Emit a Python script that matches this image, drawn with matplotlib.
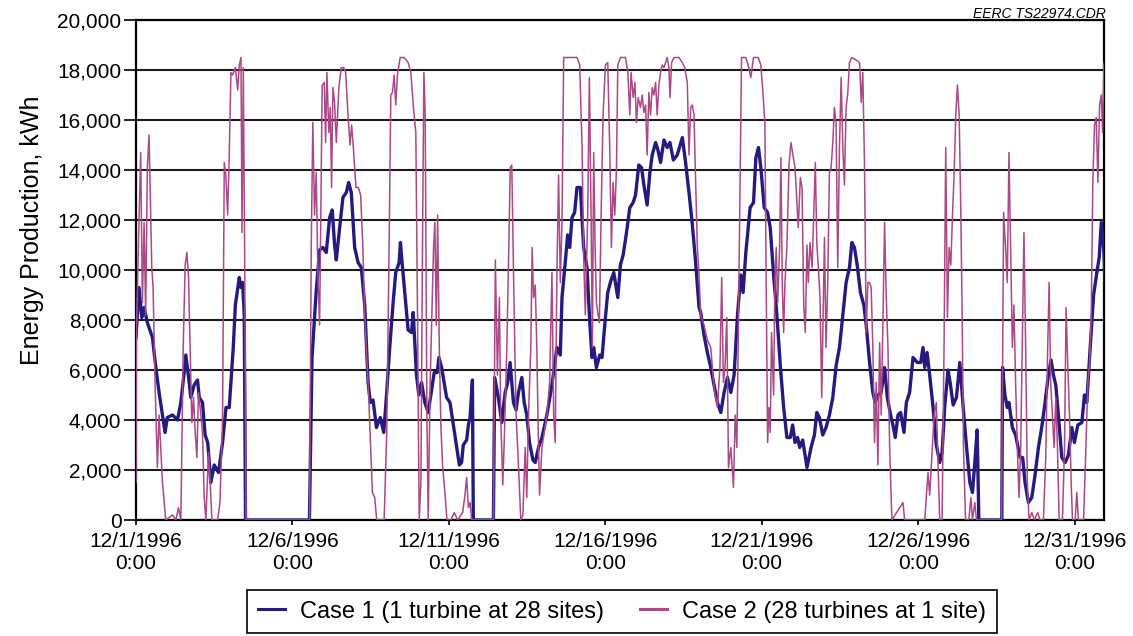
import numpy as np
import matplotlib
matplotlib.use("Agg")
import matplotlib.pyplot as plt
from matplotlib.ticker import FuncFormatter

# hours since 12/1/1996 0:00, energy in kWh
case1_hours = [
    0, 2.3, 4.4, 6.2, 8.7, 12.6, 15, 17.7, 20.3, 22.3, 24, 28, 31.8, 34.4, 36.9,
    38.2, 40.8, 42, 44.6, 47.2, 48.5, 51, 53, 55, 57.4, 60, 63.3, 66.4, 69, 71.5,
    74.6, 76.2, 79.2, 80.5, 81.8, 83, 84, 133, 135, 138, 140.8, 143.3, 145.9,
    148.5, 150.5, 152.3, 153.6, 156.2, 158.7, 161.3, 163.1, 165.1, 167.7, 170.3,
    172.8, 175.4, 178, 179.7, 181.8, 184.4, 187.4, 190, 192, 194.6, 197.2, 199.2,
    201.8, 202.8, 204.4, 207, 208.7, 211.3, 212.6, 215.1, 216.9, 219, 221.5,
    224.1, 226.7, 228.7, 231, 232.3, 234.4, 238.2, 240.8, 243.4, 246, 248, 249.7,
    251, 253.6, 254.9, 256.2, 258, 258.7, 274.1, 275.1, 277.9, 280.5, 283.1,
    285.1, 286.9, 289.5, 291.5, 293.3, 295.9, 297.7, 299.7, 301.8, 304.4, 306.2,
    308.7, 311.3, 315.1, 319, 322.8, 325.4, 326.7, 329.2, 331, 332.6, 334.4,
    336.4, 338.2, 340.8, 343.3, 345.9, 348, 349.7, 351, 353.1, 355.6, 357.4, 360,
    361.8, 363.8, 366.4, 369.5, 371.5, 373.6, 376.2, 378.7, 381.3, 383.1, 385.6,
    387.7, 389.5, 392, 394.1, 395.9, 398.5, 400.3, 402.3, 404.9, 407.4, 409.5,
    412.1, 415.1, 419, 421.5, 424.1, 426.7, 429.2, 431.8, 433.1, 435.6, 438.2,
    440.8, 443.3, 445.9, 448.5, 451, 453.6, 456.2, 458.7, 461.3, 463.8, 465.6,
    467.7, 471, 473.6, 475.4, 477.4, 479.2, 481.8, 484.4, 486.4, 489, 491.5,
    494.1, 496.7, 499.2, 501.8, 503.6, 505.4, 507.4, 509, 511.3, 514.6, 517.7,
    520.3, 522.1, 524.1, 526.7, 529.2, 531.8, 534.4, 537, 539.5, 542.1, 544.6,
    547.2, 549, 551, 553.1, 555.6, 558.2, 560, 562.6, 565.1, 566.9, 569, 571.5,
    574.1, 576.2, 578.7, 580.5, 582.3, 584.4, 586.4, 589, 590.8, 593.3, 595.9,
    599.2, 601.8, 603.6, 604.9, 606.7, 608.7, 611.3, 613.8, 616.4, 618.2, 620.3,
    622.8, 624.4, 626.7, 629.2, 631.8, 634.4, 637, 639.5, 641.5, 643.3, 645.1,
    646.4, 664, 664.6, 666.4, 668.2, 669.5, 672.1, 674.6, 678, 680, 681.8, 684.4,
    687, 689.5, 692.1, 694.6, 697.2, 699.7, 701.8, 703.6, 705.4, 707.4, 710,
    712.6, 715.1, 717.7, 719.7, 722.3, 725.4, 727.4, 729.2, 731.8, 734.4, 736.9,
    738.7, 740.3, 742.1, 743.5,
]
case1_kwh = [
    7300, 9300, 8100, 8500, 7900, 7300, 6200, 5100, 4200, 3500, 4100, 4200, 4000,
    4700, 5900, 6600, 5500, 4900, 5400, 5600, 4900, 4700, 3400, 3100, 1500, 2200,
    1900, 3100, 4500, 4500, 6900, 8600, 9700, 9300, 9500, 8200, 0, 0, 6500, 9000,
    10800, 10900, 10700, 12100, 12400, 11000, 10400, 11700, 12900, 13100, 13500,
    13100, 10900, 10300, 10100, 8600, 5500, 4700, 4800, 3700, 4100, 3500, 4900,
    6900, 8700, 9900, 10300, 11100, 10100, 8600, 7600, 7500, 8300, 5800, 5000,
    5500, 4700, 4300, 5200, 5900, 5900, 6500, 6100, 4900, 4700, 3800, 2900, 2200,
    2300, 3000, 3200, 3800, 4100, 5600, 0, 0, 5700, 4900, 3900, 5100, 5500, 6300,
    4700, 4400, 5100, 5700, 4700, 4200, 3100, 2400, 2300, 2900, 3300, 4200, 5400,
    6900, 6600, 8900, 10300, 11400, 10900, 12100, 12300, 13300, 13300, 10900,
    10100, 7900, 6500, 6900, 6100, 6600, 6500, 8100, 9100, 9500, 9900, 8900,
    10200, 10600, 11500, 12500, 12700, 13000, 14200, 14100, 13400, 12600, 13900,
    14600, 15100, 14800, 14300, 15200, 14900, 15100, 14400, 14600, 15300, 14300,
    13100, 11800, 10300, 8500, 8300, 7400, 6700, 6100, 5400, 4700, 4300, 5100,
    5700, 5100, 5800, 8200, 9800, 9100, 10700, 12500, 12700, 14500, 14900, 14100,
    12500, 12300, 11700, 9800, 8200, 6200, 4500, 3300, 3300, 3800, 3100, 3300,
    2900, 3200, 2100, 2900, 3400, 4300, 4100, 3400, 3700, 4200, 4900, 6200, 6900,
    8200, 9500, 10100, 11100, 10900, 10200, 9100, 8600, 7800, 6300, 5100, 4700,
    5000, 5100, 6100, 4900, 4200, 3800, 3300, 4200, 4300, 3500, 4700, 5100, 6500,
    6300, 6300, 6900, 6100, 6700, 5800, 4500, 3000, 2300, 2700, 4600, 6000, 5500,
    4600, 4900, 6300, 4500, 2900, 1500, 1100, 2300, 3600, 0, 0, 6100, 5000, 4500,
    4700, 3700, 3400, 2500, 2500, 1500, 700, 900, 1800, 2900, 3700, 4700, 5800,
    6400, 5800, 5400, 4200, 2500, 2300, 2600, 3700, 3100, 3800, 3900, 5000, 4700,
    6900, 9000, 9900, 10500, 11900, 10900, 9300,
]

case2_hours = [
    0, 0.3, 1.8, 3.6, 4.9, 6.2, 7.4, 8.7, 10, 11.3, 12.1, 13.1, 14.6, 16.4, 17.7,
    20.3, 22.8, 28, 30.5, 32.6, 34.4, 36.2, 37.7, 39, 40.3, 41.5, 42.8, 44.1,
    45.4, 46.7, 47.9, 49.2, 51, 52.3, 53.6, 55.6, 56.9, 58.2, 62.6, 64.4, 66.4,
    67.7, 69, 70.3, 71.5, 72.8, 74.1, 76.2, 78, 79.2, 80.5, 81.3, 82.3, 83.3,
    84.4, 133.1, 134.4, 135.6, 136.9, 138.2, 139.5, 140.8, 142.8, 144.4, 145.4,
    146.4, 147.9, 149, 150, 151, 152.3, 153.6, 155.6, 157.4, 159.2, 160.8, 162.6,
    164.1, 165.4, 166.7, 168.7, 170.5, 172.3, 174, 175.4, 178.5, 181.3, 183.1,
    184.6, 190.3, 192.3, 194.1, 195.4, 196.7, 198, 199.2, 200.5, 202.6, 205.6,
    208.7, 210.8, 212.8, 214.6, 215.9, 217.2, 218.5, 219.7, 220.8, 221.8, 223.1,
    224.1, 225.6, 226.9, 228.2, 229.2, 230.3, 231.3, 232.6, 233.8, 235.1, 236.9,
    238.5, 241.5, 244.1, 246.7, 250.5, 252.3, 253.6, 254.9, 256.2, 257.4, 274.1,
    275.6, 277.2, 278.7, 279.7, 281.3, 282.6, 284.4, 285.9, 287, 288.2, 289.8,
    291.5, 293.3, 295.1, 296.7, 298.5, 299.7, 301, 302.8, 303.8, 304.9, 306.2,
    307.4, 308.7, 309.5, 311.3, 313.1, 315.1, 317.2, 319, 320.3, 321.5, 322.8,
    324.1, 325.4, 326.7, 328, 338.2, 340.3, 342.1, 343.3, 344.6, 346.4, 347.7,
    349, 350, 351, 352.1, 353.1, 354.4, 355.4, 356.7, 358.2, 360, 361.8, 363.3,
    364.6, 365.9, 367.2, 368.5, 369.5, 371.5, 375.4, 377.2, 378.7, 379.7, 381.3,
    382.6, 383.8, 385.1, 386.9, 388.2, 389.5, 390.8, 392, 393.3, 394.6, 395.9,
    397.2, 398.5, 399.7, 401, 402.3, 403.6, 404.9, 406.2, 407.4, 408.7, 409.5,
    410.8, 412.6, 416.4, 419, 420.8, 422.8, 424.1, 425.4, 426.7, 427.9, 429.2,
    430.5, 431.8, 433.1, 435.6, 438.2, 440.8, 443.3, 445.9, 447.9, 449.2, 450.5,
    451.8, 453.1, 454.4, 456.2, 458.2, 459.5, 460.8, 461.8, 463.3, 464.4, 467.7,
    469.5, 471.5, 473.6, 477.2, 479.2, 480.8, 482.3, 483.3, 484.4, 485.4, 486.4,
    487.4, 489, 490, 491, 492.1, 493.6, 494.6, 495.6, 496.7, 497.7, 499.2, 500.8,
    502.3, 503.8, 505.4, 506.7, 507.9, 509.5, 510.8, 512.1, 513.3, 514.6, 515.6,
    516.9, 518.5, 519.7, 521, 522.1, 523.3, 524.6, 525.9, 526.9, 528, 529.2,
    530.5, 531.8, 533.1, 534.4, 535.6, 536.9, 538.2, 539.5, 540.8, 542.1, 543.3,
    544.6, 545.9, 547.2, 549, 552.3, 554.9, 556.2, 557.4, 558.7, 560, 561.3,
    562.6, 563.8, 565.1, 566.4, 567.7, 569, 570.3, 571.5, 572.8, 574.1, 575.4,
    576.7, 578, 579.7, 588.2, 589.5, 604.9, 607.4, 608.7, 610, 612.1, 613.8,
    615.1, 616.4, 618.2, 619.7, 621, 622.3, 623.6, 624.9, 626.2, 627.4, 628.7,
    630, 631.3, 632.6, 633.6, 634.6, 636.2, 638.7, 640.3, 641.5, 643.3, 644.6,
    663.8, 665.4, 666.9, 668.2, 669.5, 670.8, 672.1, 673.3, 674.6, 675.9, 677.2,
    678.5, 680, 681, 682.3, 683.6, 684.9, 687, 689, 691.5, 693.3, 695.9, 697.7,
    699.2, 700.3, 701.5, 702.8, 704.1, 705.4, 706.7, 708, 710.5, 712.1, 713.3,
    714.6, 715.9, 717.2, 718.2, 720.3, 721.5, 722.8, 726.7, 728.5, 730, 731.3,
    732.6, 733.8, 735.1, 736.4, 737.7, 739, 740.3, 741.3, 742.3, 743.3,
]
case2_kwh = [
    1500, 7400, 10900, 14700, 8700, 11900, 8200, 14100, 15400, 12200, 10100, 9300,
    5500, 2100, 4200, 1500, 0, 200, 0, 500, 0, 6900, 10200, 10700, 9700, 6900,
    3900, 4900, 3500, 2500, 5100, 4500, 3500, 900, 0, 2700, 1500, 0, 0, 700, 4100,
    14300, 13700, 12200, 14600, 17900, 17800, 18100, 17200, 18200, 18500, 11500,
    18100, 10900, 0, 0, 10900, 15900, 12200, 13900, 9800, 7800, 17400, 17500,
    15100, 17900, 15500, 16500, 13300, 17300, 16700, 15100, 17300, 18100, 18100,
    17900, 16200, 15000, 15800, 14900, 13300, 13300, 13000, 10900, 8200, 4900,
    1100, 900, 0, 0, 3500, 10900, 17000, 17100, 17800, 16600, 17800, 18500, 18500,
    18300, 17900, 16500, 15500, 8200, 0, 1500, 10900, 17900, 16200, 4200, 0, 5500,
    8200, 10900, 11900, 7800, 12200, 6900, 3800, 2200, 1100, 0, 0, 300, 0, 300,
    1000, 1700, 500, 700, 0, 0, 10400, 5800, 8900, 4200, 1400, 3500, 6900, 10900,
    14100, 14200, 9000, 4200, 2200, 0, 200, 2900, 900, 4200, 6900, 10900, 8900,
    9400, 6900, 2900, 1000, 2900, 3500, 4200, 5500, 9900, 4200, 3100, 9900, 13800,
    9500, 11900, 18500, 18500, 18200, 14900, 10600, 8200, 12200, 17700, 12200,
    6900, 14700, 10900, 8700, 8200, 7900, 12200, 16200, 18200, 18300, 14900,
    10900, 13500, 12200, 14100, 18200, 18500, 18500, 17900, 16200, 17900, 16900,
    17500, 15900, 16900, 16500, 17000, 16300, 16600, 14600, 17100, 16200, 17300,
    17000, 17500, 16200, 17400, 17900, 18200, 18100, 18300, 18500, 18100, 16900,
    18300, 18500, 18500, 18300, 18100, 17500, 14600, 16500, 16600, 16200, 13500,
    10900, 9800, 8200, 7800, 7200, 6900, 5300, 4500, 6200, 9700, 5500, 6200, 8100,
    2100, 2900, 1300, 4200, 2900, 6900, 13500, 18500, 18500, 18200, 17700, 18500,
    18500, 18200, 17100, 15900, 9500, 3100, 4500, 3500, 7500, 5000, 9500, 10900,
    8700, 10900, 14500, 9500, 7500, 9500, 10900, 14200, 15100, 14600, 14100,
    12900, 11700, 13700, 13300, 8600, 7500, 11000, 9500, 11100, 10100, 12100,
    14300, 11100, 10100, 8900, 4900, 7900, 11300, 6900, 9500, 13900, 14100,
    15100, 16500, 15900, 10100, 14900, 17700, 14900, 13400, 16500, 17100, 18300,
    18500, 18400, 18300, 16700, 17900, 14200, 7500, 9500, 9500, 9300, 6900, 3100,
    5500, 2200, 7100, 4200, 7800, 11900, 8900, 6900, 2900, 0, 700, 0, 0, 1900,
    1000, 2200, 4200, 4700, 2200, 0, 0, 6900, 14900, 8100, 10900, 10200, 12200,
    13800, 16200, 17400, 16200, 12200, 8200, 2900, 0, 0, 900, 0, 700, 0, 0, 12300,
    10900, 9500, 14700, 10900, 6900, 8600, 5500, 2900, 900, 2900, 8200, 11500,
    6900, 1500, 0, 300, 0, 300, 0, 0, 2500, 6900, 9500, 5500, 4200, 2900, 4900,
    2900, 0, 0, 2900, 8500, 6200, 4200, 1500, 0, 0, 1100, 0, 0, 2900, 5500, 6200,
    8200, 13500, 15800, 16100, 13500, 16600, 17000, 15500, 18200, 18500,
]

tick_hours = [0, 120, 240, 360, 480, 600, 720]
tick_labels = ["12/1/1996\n0:00", "12/6/1996\n0:00", "12/11/1996\n0:00",
               "12/16/1996\n0:00", "12/21/1996\n0:00", "12/26/1996\n0:00",
               "12/31/1996\n0:00"]
series_names = ["Case 1 (1 turbine at 28 sites)",
                "Case 2 (28 turbines at 1 site)"]

plt.rcParams['font.family'] = ['Liberation Sans', 'DejaVu Sans']

fig = plt.figure(figsize=(11.33, 6.36), dpi=100)
ax = fig.add_axes([136 / 1133, 1 - 520 / 636, 967.5 / 1133, 500 / 636])

line1, = ax.plot(case1_hours, case1_kwh, color='#231b7f', lw=2.4, zorder=3)
line2, = ax.plot(case2_hours, case2_kwh, color='#ac4888', lw=1.1, zorder=4)

ax.set_xlim(0, 742)
ax.set_ylim(0, 20000)
ax.set_yticks(np.arange(0, 20001, 2000))
ax.yaxis.set_major_formatter(FuncFormatter(lambda v, p: f"{int(v):,}"))
ax.set_xticks(tick_hours)
ax.set_xticklabels(tick_labels)

ax.yaxis.grid(True, color='#1a1a1a', lw=1.5)
ax.set_axisbelow(True)
for s in ax.spines.values():
    s.set_linewidth(1.6)
    s.set_color('black')

ax.tick_params(axis='y', labelsize=15, length=9, width=1.2, pad=1.5)
ax.tick_params(axis='x', labelsize=15, length=3.5, width=1.2, pad=5)

ax.set_ylabel("Energy Production, kWh", fontsize=18)
ax.yaxis.set_label_coords(-0.095, 0.58)

fig.text(1106 / 1133, 1 - 17.5 / 636, "EERC TS22974.CDR", ha='right',
         va='baseline', fontsize=10, style='italic')

leg = fig.legend([line1, line2], series_names, loc='upper center',
                 bbox_to_anchor=(622 / 1133, 1 - 590 / 636), ncol=2,
                 fontsize=17, frameon=True, fancybox=False, framealpha=1,
                 edgecolor='black', handlelength=1.15, handletextpad=0.65,
                 columnspacing=1.5, borderpad=0.45, borderaxespad=0)
leg.get_frame().set_linewidth(1.2)
for h in leg.legend_handles:
    h.set_linewidth(2.2)

fig.savefig("out.png", dpi=100)
